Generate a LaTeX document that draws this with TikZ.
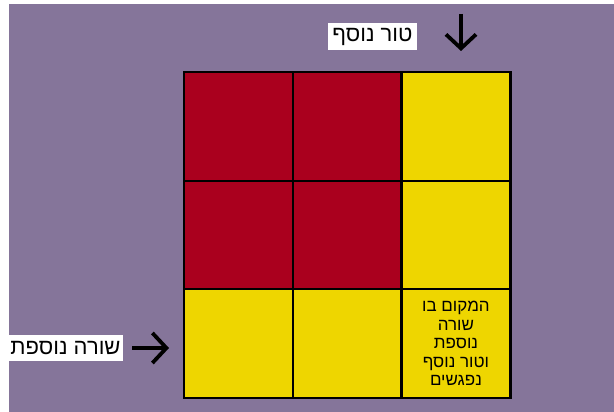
\documentclass[tikz,border=0pt]{standalone}
\usepackage{fontspec}
\usepackage{tikz}
\usetikzlibrary{arrows.meta, positioning}
\usepackage{xcolor}
\TeXXeTstate=1
\newfontfamily\hebfont[Script=Hebrew]{Liberation Sans}
\definecolor{bgpurple}{HTML}{85759A}
\definecolor{cellred}{HTML}{AA001E}
\definecolor{cellyellow}{HTML}{EED600}

\begin{document}
\begin{tikzpicture}[
    x=1pt, y=-1pt,
    cell/.style={draw=black, line width=2.4pt, minimum width=108.7pt, minimum height=108.5pt, inner sep=0pt, anchor=north west},
    tag/.style={fill=white, inner sep=0pt, minimum height=27pt, font=\hebfont\fontsize{22}{24}\selectfont},
    pointer/.style={-{Straight Barb[length=14pt, width=30pt]}, line width=3.8pt}
  ]
    \useasboundingbox (0,0) rectangle (614,412);
    \fill[bgpurple] (9,4) rectangle (614,412);

    % the 3x3 board
    \foreach \r/\c/\col in {1/1/cellred, 1/2/cellred, 1/3/cellyellow,
                            2/1/cellred, 2/2/cellred, 2/3/cellyellow,
                            3/1/cellyellow, 3/2/cellyellow}
      \node[cell, fill=\col] (c\r\c) at ({183+(\c-1)*108.7}, {71+(\r-1)*108.5}) {};
    \node[cell, fill=cellyellow, align=center, font=\hebfont\fontsize{17}{18.5}\selectfont] (c33) at (400.4, 288) {%
      \beginR המקום בו\endR\\ \beginR שורה\endR\\ \beginR נוספת\endR\\ \beginR וטור נוסף\endR\\ \beginR נפגשים\endR};

    % labels
    \node[tag, minimum width=89pt] (colLabel) at (372.5, 36.5) {\beginR טור נוסף\endR};
    \node[tag, minimum width=115pt, minimum height=26pt] (rowLabel) at (65.5, 348) {\beginR שורה נוספת\endR};

    \coordinate (colStart) at (461, 14);
    \coordinate (colEnd) at (461, 51);
    \coordinate (rowStart) at (132, 348);
    \coordinate (rowEnd) at (169, 348);
    \draw[pointer] (colStart) -- (colEnd);
    \draw[pointer] (rowStart) -- (rowEnd);
\end{tikzpicture}
\end{document}
